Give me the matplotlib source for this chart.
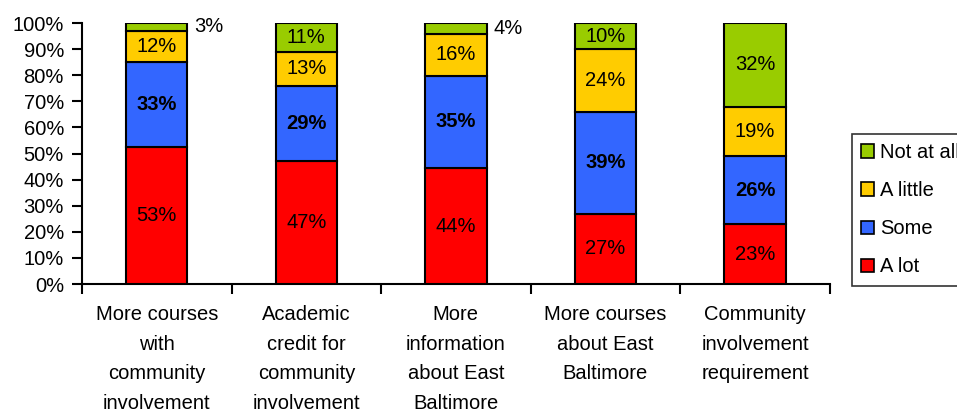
import numpy as np
import matplotlib
matplotlib.use('Agg')
import matplotlib.pyplot as plt
from matplotlib.patches import Patch

plt.rcParams['font.family'] = ['Liberation Sans', 'DejaVu Sans']

categories = ['More courses\nwith\ncommunity\ninvolvement',
              'Academic\ncredit for\ncommunity\ninvolvement',
              'More\ninformation\nabout East\nBaltimore',
              'More courses\nabout East\nBaltimore',
              'Community\ninvolvement\nrequirement']
series = ['A lot', 'Some', 'A little', 'Not at all']
a_lot = [53, 47, 44, 27, 23]
some = [33, 29, 35, 39, 26]
a_little = [12, 13, 16, 24, 19]
not_at_all = [3, 11, 4, 10, 32]
colors = ['#FF0000', '#3366FF', '#FFCC00', '#99CC00']
y_ticks = [0, 10, 20, 30, 40, 50, 60, 70, 80, 90, 100]

vals = np.array([a_lot, some, a_little, not_at_all], dtype=float)
totals = vals.sum(axis=0)
shares = vals / totals * 100  # 100% stacked

fig = plt.figure(figsize=(9.57, 4.13), dpi=100)
ax = fig.add_axes([0.0857, 0.3123, 0.867 - 0.0857, 0.9443 - 0.3123])

x = np.arange(len(categories)) + 0.5
bottom = np.zeros(len(categories))
for k in range(4):
    ax.bar(x, shares[k], 0.41, bottom=bottom, color=colors[k],
           edgecolor='black', linewidth=1.5, zorder=3)
    for i in range(len(categories)):
        mid = bottom[i] + shares[k][i] / 2
        txt = f'{int(vals[k][i])}%'
        weight = 'bold' if k == 1 else 'normal'
        if shares[k][i] < 6:
            # small slices get their label beside the bar
            ax.text(x[i] + 0.25, mid, txt, ha='left', va='center',
                    fontsize=14.5)
        else:
            ax.text(x[i], mid, txt, ha='center', va='center',
                    fontsize=14.5, fontweight=weight, zorder=4)
    bottom += shares[k]

ax.set_xlim(0, 5)
ax.set_ylim(0, 100)
ax.set_yticks(y_ticks)
ax.set_yticklabels([f'{t}%' for t in y_ticks], fontsize=14.5)
ax.set_xticks(np.arange(6))
ax.set_xticklabels([])
ax.set_xticks(x, minor=True)
ax.set_xticklabels(categories, minor=True, fontsize=14.5, linespacing=1.72,
                   va='top')
ax.tick_params(axis='x', which='minor', length=0, pad=15)
ax.tick_params(axis='x', which='major', length=7, width=1.5, direction='out')
ax.tick_params(axis='y', length=7, width=1.5, direction='out', pad=6)
for s in ['top', 'right']:
    ax.spines[s].set_visible(False)
for s in ['left', 'bottom']:
    ax.spines[s].set_linewidth(1.5)

handles = [Patch(facecolor=colors[k], edgecolor='black', linewidth=1.2)
           for k in [3, 2, 1, 0]]
labels = [series[k] for k in [3, 2, 1, 0]]
leg = fig.legend(handles, labels, loc='upper left',
                 bbox_to_anchor=(852 / 957, 1 - 134 / 413),
                 fontsize=14.5, frameon=True, fancybox=False,
                 handlelength=0.65, handleheight=0.65, handletextpad=0.3,
                 labelspacing=0.95, borderpad=0.45, borderaxespad=0)
leg.get_frame().set_edgecolor('black')
leg.get_frame().set_linewidth(1.2)

fig.savefig('out.png', dpi=100)
